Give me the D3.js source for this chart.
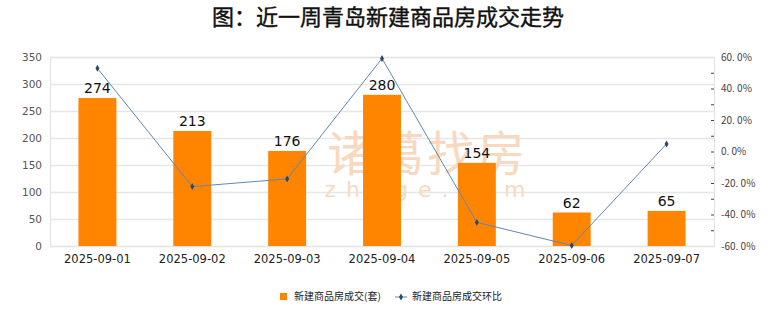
<!DOCTYPE html>
<html><head><meta charset="utf-8">
<script src="https://cdn.jsdelivr.net/npm/d3@7/dist/d3.min.js"></script>
<style>body{margin:0;background:#fff;}svg{display:block;}</style>
</head><body>
<script>
const categories = ["2025-09-01","2025-09-02","2025-09-03","2025-09-04","2025-09-05","2025-09-06","2025-09-07"];
const deals = [274, 213, 176, 280, 154, 62, 65];
const changePct = [52.8, -22.3, -17.4, 59.1, -45.0, -59.7, 4.8];
const leftTicks = [0,50,100,150,200,250,300,350];
const rightTicks = [-60,-40,-20,0,20,40,60];
const title = "图：近一周青岛新建商品房成交走势";
const legendLabels = ["新建商品房成交(套)", "新建商品房成交环比"];

const W = 780, H = 328;
const m = {l:50, r:66, t:57, b:82};
const svg = d3.select("body").append("svg").attr("width", W).attr("height", H);
const font = "'Noto Sans CJK SC','DejaVu Sans',sans-serif";

const x = d3.scaleBand().domain(categories).range([m.l, W-m.r]).paddingInner(0).paddingOuter(0);
const y = d3.scaleLinear().domain([0,350]).range([H-m.b, m.t]);
const y2 = d3.scaleLinear().domain([-60,60]).range([H-m.b, m.t]);

svg.append("text").attr("x", 388).attr("y", 25).attr("text-anchor","middle")
  .attr("font-family", font).attr("font-size", 22).attr("fill","#111")
  .attr("stroke","#111").attr("stroke-width",0.4).text(title);

// gridlines
svg.append("g").selectAll("line").data(leftTicks).join("line")
  .attr("x1", m.l).attr("x2", W-m.r).attr("y1", d=>y(d)+0.5).attr("y2", d=>y(d)+0.5)
  .attr("stroke", "#e6e6e6").attr("stroke-width", 1.5);
// border
svg.append("rect").attr("x", m.l+0.5).attr("y", m.t+0.5).attr("width", W-m.r-m.l).attr("height", H-m.b-m.t)
  .attr("fill","none").attr("stroke","#e3e3e3").attr("stroke-width",1.2);

// watermark (behind bars)
svg.append("text").attr("x", 427).attr("y", 171).attr("text-anchor","middle")
  .attr("font-family", font).attr("font-size", 48).attr("fill","#f8d9c0")
  .attr("letter-spacing", 2).text("诸葛找房");
svg.append("text").attr("x", 430).attr("y", 197).attr("text-anchor","middle")
  .attr("font-family", "'DejaVu Sans',sans-serif").attr("font-size", 22).attr("fill","#f8d9c0")
  .attr("letter-spacing", 10).text("zhuge.com");

// left axis
const ya = d3.axisLeft(y).tickValues(leftTicks).tickSize(0).tickPadding(8);
const gy = svg.append("g").attr("transform", `translate(${m.l},0)`).call(ya);
gy.select(".domain").remove();
gy.selectAll("text").attr("font-family", "'DejaVu Sans',sans-serif").attr("font-size", 10.5).attr("fill","#555");

// right axis
const ya2 = d3.axisRight(y2).tickValues(rightTicks).tickSize(0).tickPadding(7)
  .tickFormat(d => d.toFixed(1).replace(".", ". ") + "%");
const gy2 = svg.append("g").attr("transform", `translate(${W-m.r},0)`).call(ya2);
gy2.select(".domain").remove();
gy2.selectAll("text").attr("font-family", "'Noto Sans CJK SC',sans-serif").attr("font-size", 10).attr("fill","#444");
const minor = d3.range(-50, 60, 10);
svg.append("g").selectAll("line").data(minor).join("line")
  .attr("x1", W-m.r-3).attr("x2", W-m.r).attr("y1", d=>y2(d)+0.5).attr("y2", d=>y2(d)+0.5)
  .attr("stroke", "#444").attr("stroke-width", 1);

// bars
const bw = x.bandwidth()*0.4;
svg.append("g").selectAll("rect").data(deals).join("rect")
  .attr("x", (d,i)=>x(categories[i]) + x.bandwidth()/2 - bw/2)
  .attr("y", d=>y(d)).attr("width", bw).attr("height", d=>y(0)-y(d)).attr("fill", "#ff8500");
svg.append("g").selectAll("text").data(deals).join("text")
  .attr("x", (d,i)=>x(categories[i]) + x.bandwidth()/2)
  .attr("y", d=>y(d)-5).attr("text-anchor","middle")
  .attr("font-family", "'DejaVu Sans',sans-serif").attr("font-size", 14).attr("fill","#111").text(d=>d);

// x labels
svg.append("g").selectAll("text").data(categories).join("text")
  .attr("x", d=>x(d)+x.bandwidth()/2).attr("y", H-m.b+17).attr("text-anchor","middle")
  .attr("font-family", "'DejaVu Sans',sans-serif").attr("font-size", 11.5).attr("fill","#222").text(d=>d);

// line
const line = d3.line().x((d,i)=>x(categories[i])+x.bandwidth()/2).y(d=>y2(d));
svg.append("path").datum(changePct).attr("d", line).attr("fill","none").attr("stroke","#5f88b0").attr("stroke-width",1);
const diamond = d3.symbol().type(d3.symbolDiamond).size(14);
svg.append("g").selectAll("path").data(changePct).join("path")
  .attr("transform", (d,i)=>`translate(${x(categories[i])+x.bandwidth()/2},${y2(d)})`)
  .attr("d", diamond).attr("fill", "#2b4a6b");

// legend
const lg = svg.append("g");
lg.append("rect").attr("x", 280).attr("y", 293).attr("width", 7).attr("height", 7).attr("fill","#ff8500");
lg.append("text").attr("x", 294).attr("y", 300).attr("font-family", font).attr("font-size", 10).attr("fill","#222").text(legendLabels[0]);
lg.append("line").attr("x1", 395).attr("x2", 407).attr("y1", 297).attr("y2", 297).attr("stroke","#5f88b0");
lg.append("path").attr("transform","translate(401,297)").attr("d", diamond).attr("fill","#2b4a6b");
lg.append("text").attr("x", 412).attr("y", 300).attr("font-family", font).attr("font-size", 10).attr("fill","#222").text(legendLabels[1]);
</script>
</body></html>
